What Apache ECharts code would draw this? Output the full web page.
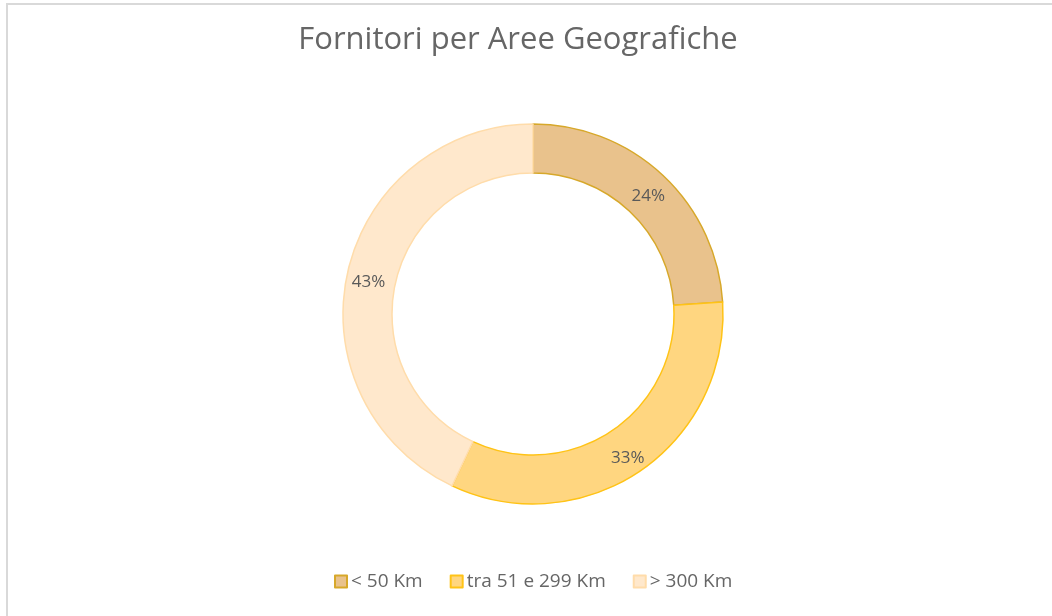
<!DOCTYPE html>
<html>
<head>
<meta charset="utf-8">
<script src="https://cdn.jsdelivr.net/npm/echarts@6/dist/echarts.min.js"></script>
<style>
    html, body { margin: 0; padding: 0; background: #fff; }
    #frame { position: absolute; left: 6px; top: 3px; width: 1060px; height: 620px;
             border-left: 2px solid #d9d9d9; border-top: 2px solid #d9d9d9; }
    #chart { position: absolute; left: 0; top: 0; width: 1052px; height: 616px; }
</style>
</head>
<body>
<div id="frame"></div>
<div id="chart"></div>
<script>
var titleText = 'Fornitori per Aree Geografiche';
var categories = ['< 50 Km', 'tra 51 e 299 Km', '> 300 Km'];
var values = [24, 33, 43];
var fillColors = ['#E9C28C', '#FFD680', '#FFE8CC'];
var borderColors = ['#D7A82A', '#FFC316', '#FFDCAA'];

var chartDom = document.getElementById('chart');
var myChart = echarts.init(chartDom);

var pieData = [];
categories.forEach(function (name, idx) {
    pieData.push({
        name: name,
        value: values[idx],
        itemStyle: {
            color: fillColors[idx],
            borderColor: borderColors[idx],
            borderWidth: 1.5
        }
    });
});

var option = {
    animation: false,
    title: {
        text: titleText,
        left: 513,
        top: 20,
        textAlign: 'center',
        textStyle: {
            color: '#666666',
            fontSize: 31,
            fontWeight: 'normal',
            fontFamily: 'Open Sans'
        }
    },
    legend: {
        bottom: 20,
        left: 329,
        itemWidth: 12,
        itemHeight: 12,
        itemGap: 27,
        icon: 'rect',
        textStyle: {
            color: '#666666',
            fontSize: 19,
            fontFamily: 'Open Sans',
            padding: [0, 0, 0, -1]
        },
        data: categories
    },
    series: [{
        type: 'pie',
        center: [533, 314],
        radius: [141, 190],
        startAngle: 90,
        clockwise: true,
        label: {
            show: true,
            position: 'inside',
            color: '#595959',
            fontSize: 17,
            fontFamily: 'Open Sans',
            offset: [0, 5],
            formatter: function (params) {
                return params.value + '%';
            }
        },
        labelLine: { show: false },
        emphasis: { scale: false },
        data: pieData
    }]
};

option && myChart.setOption(option);
</script>
</body>
</html>
